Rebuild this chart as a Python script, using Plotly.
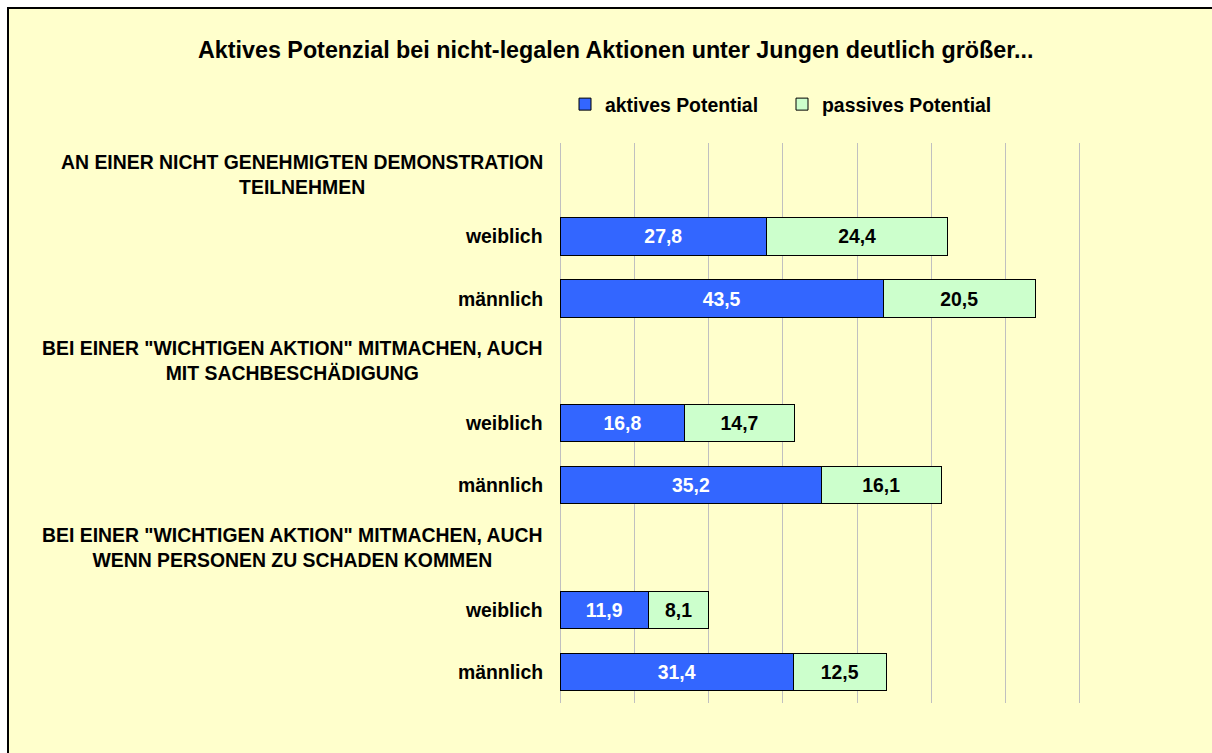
import plotly.graph_objects as go

# ---- data ----
row_labels = [
    "AN EINER NICHT GENEHMIGTEN DEMONSTRATION<br>TEILNEHMEN",
    "weiblich",
    "männlich",
    "BEI EINER \"WICHTIGEN AKTION\" MITMACHEN, AUCH<br>MIT SACHBESCHÄDIGUNG",
    "weiblich",
    "männlich",
    "BEI EINER \"WICHTIGEN AKTION\" MITMACHEN, AUCH<br>WENN PERSONEN ZU SCHADEN KOMMEN",
    "weiblich",
    "männlich",
]
aktiv = [None, 27.8, 43.5, None, 16.8, 35.2, None, 11.9, 31.4]
passiv = [None, 24.4, 20.5, None, 14.7, 16.1, None, 8.1, 12.5]
series_names = ["aktives Potential", "passives Potential"]
x_ticks = [0, 10, 20, 30, 40, 50, 60, 70]
title_text = "Aktives Potenzial bei nicht-legalen Aktionen unter Jungen deutlich größer..."

# ---- style ----
FONT = "Liberation Sans, Arial, sans-serif"
BG = "#FFFFCC"
BLUE = "#3366FF"
GREEN = "#CCFFCC"
W, H = 1212, 753
ML, MR, MT, MB = 559, 131, 143, 50
FS = 19.4
pw = W - ML - MR
ph = H - MT - MB


def fmt(v):
    return "" if v is None else f"{v:.1f}".replace(".", ",")


def px_x(p):   # figure pixel -> paper x
    return (p - ML) / pw


def px_y(p):   # figure pixel (from top) -> paper y
    return (H - MB - p) / ph


rows = list(range(len(row_labels)))

fig = go.Figure()
fig.add_trace(go.Bar(
    y=rows, x=aktiv, orientation="h", name=series_names[0],
    marker=dict(color=BLUE, line=dict(color="black", width=1)),
    text=[fmt(v) for v in aktiv], textposition="inside",
    insidetextanchor="middle", textangle=0, constraintext="none",
    textfont=dict(family=FONT, size=FS, color="white", weight="bold"),
    width=0.6, hoverinfo="skip",
))
fig.add_trace(go.Bar(
    y=rows, x=passiv, orientation="h", name=series_names[1],
    marker=dict(color=GREEN, line=dict(color="black", width=1)),
    text=[fmt(v) for v in passiv], textposition="inside",
    insidetextanchor="middle", textangle=0, constraintext="none",
    textfont=dict(family=FONT, size=FS, color="black", weight="bold"),
    width=0.6, hoverinfo="skip",
))

annotations = []
for i, lab in enumerate(row_labels):
    annotations.append(dict(
        x=px_x(545), xref="paper", y=i, yref="y", xanchor="right", yanchor="middle",
        align="center", showarrow=False,
        text=f"<b>{lab}</b>",
        font=dict(family=FONT, size=FS, color="black"),
    ))
annotations.append(dict(
    x=px_x(615), xref="paper", y=px_y(50), yref="paper",
    xanchor="center", yanchor="middle", showarrow=False,
    text=f"<b>{title_text}</b>",
    font=dict(family=FONT, size=23.3, color="black"),
))

# chart-area frame: white strip outside, black border on left / top
shapes = [
    dict(type="rect", xref="paper", yref="paper", layer="below",
         x0=px_x(-5), x1=px_x(7), y0=px_y(-5), y1=px_y(H + 5),
         fillcolor="white", line=dict(width=0)),
    dict(type="rect", xref="paper", yref="paper", layer="below",
         x0=px_x(-5), x1=px_x(W + 5), y0=px_y(-5), y1=px_y(7),
         fillcolor="white", line=dict(width=0)),
    dict(type="line", xref="paper", yref="paper", layer="above",
         x0=px_x(8), x1=px_x(8), y0=px_y(7), y1=px_y(H + 10),
         line=dict(color="black", width=2)),
    dict(type="line", xref="paper", yref="paper", layer="above",
         x0=px_x(7), x1=px_x(W + 10), y0=px_y(8), y1=px_y(8),
         line=dict(color="black", width=2)),
]

fig.update_layout(
    width=W, height=H,
    margin=dict(l=ML, r=MR, t=MT, b=MB, pad=0),
    paper_bgcolor=BG, plot_bgcolor="rgba(0,0,0,0)",
    barmode="stack", bargap=0.4,
    font=dict(family=FONT, size=FS, color="black"),
    showlegend=True,
    legend=dict(
        orientation="h", x=px_x(565), xanchor="left",
        y=px_y(104.5), yanchor="middle",
        font=dict(family=FONT, size=FS, color="black", weight="bold"),
        bgcolor="rgba(0,0,0,0)", borderwidth=0,
        entrywidth=172, entrywidthmode="pixels", traceorder="normal",
    ),
    xaxis=dict(
        range=[x_ticks[0] - 0.15, x_ticks[-1] + 0.15], tickvals=x_ticks,
        showticklabels=False,
        showgrid=True, gridcolor="#C0C0C0", gridwidth=1,
        zeroline=False, showline=False, ticks="",
    ),
    yaxis=dict(
        range=[len(rows) - 0.5, -0.5], showticklabels=False, showgrid=False,
        zeroline=False, showline=False, ticks="",
    ),
    annotations=annotations,
    shapes=shapes,
)

fig.write_html(
    "out.html",
    config={"displayModeBar": False},
    post_script="document.body.style.margin='0';document.body.style.overflow='hidden';",
)
